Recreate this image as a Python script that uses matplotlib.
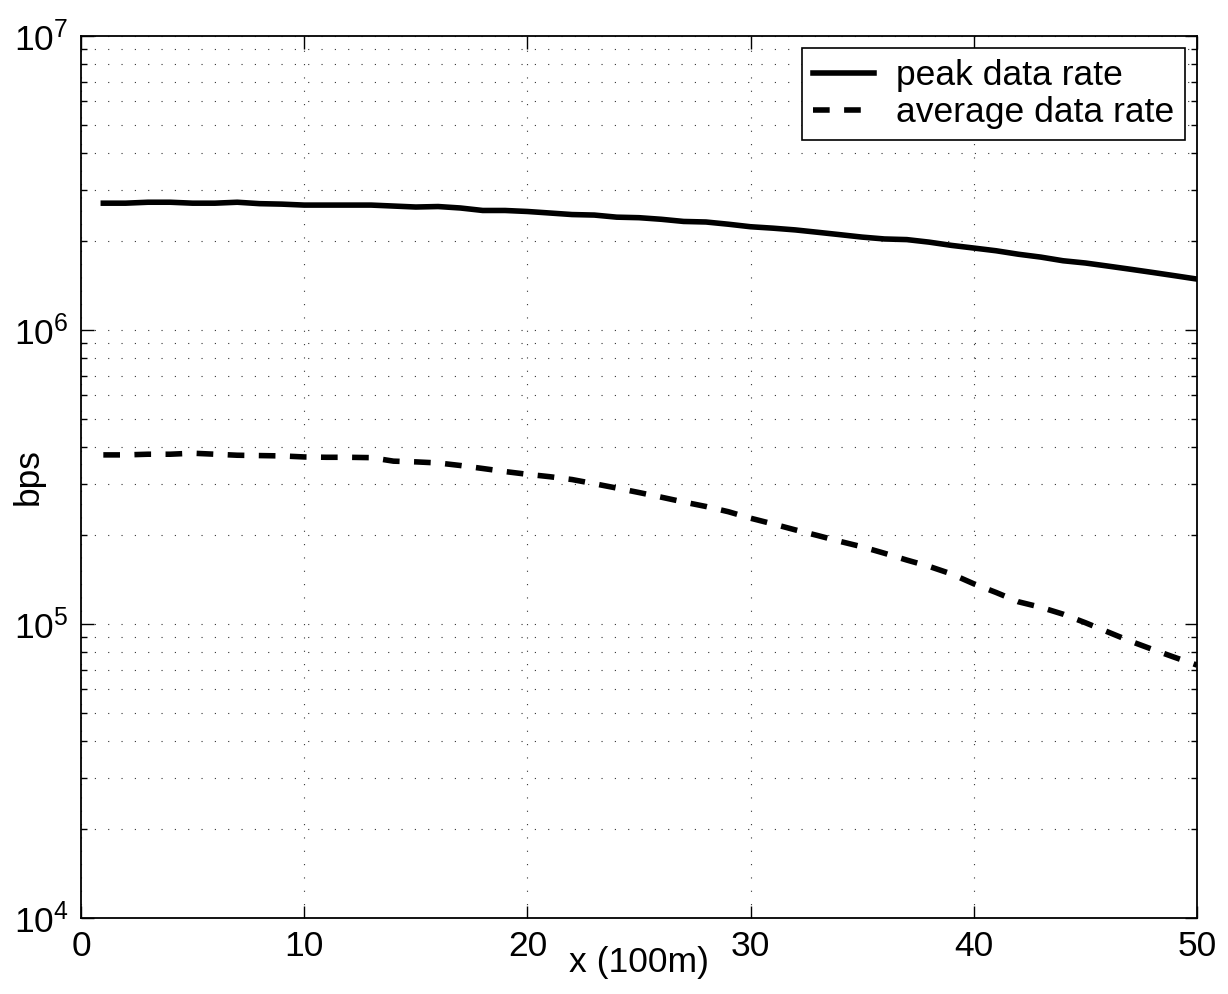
import matplotlib
matplotlib.use("Agg")
import matplotlib.pyplot as plt
import numpy as np
from matplotlib.ticker import LogLocator, FixedLocator, NullFormatter

plt.rcParams['font.family'] = ['Liberation Sans', 'DejaVu Sans']
plt.rcParams['mathtext.default'] = 'regular'

# ---- data ----
x_km = list(range(1, 51))
peak_rate = [2.70e6, 2.70e6, 2.72e6, 2.72e6, 2.70e6, 2.70e6, 2.72e6, 2.69e6, 2.68e6, 2.66e6,
             2.66e6, 2.66e6, 2.66e6, 2.64e6, 2.62e6, 2.63e6, 2.60e6, 2.55e6, 2.55e6, 2.53e6,
             2.50e6, 2.47e6, 2.46e6, 2.42e6, 2.41e6, 2.38e6, 2.34e6, 2.33e6, 2.29e6, 2.245e6,
             2.22e6, 2.19e6, 2.15e6, 2.11e6, 2.07e6, 2.04e6, 2.03e6, 1.99e6, 1.94e6, 1.90e6,
             1.86e6, 1.81e6, 1.77e6, 1.72e6, 1.69e6, 1.65e6, 1.61e6, 1.57e6, 1.53e6, 1.49e6]
avg_rate = [3.76e5, 3.76e5, 3.78e5, 3.78e5, 3.81e5, 3.78e5, 3.75e5, 3.74e5, 3.73e5, 3.70e5,
            3.69e5, 3.69e5, 3.68e5, 3.58e5, 3.56e5, 3.53e5, 3.46e5, 3.38e5, 3.30e5, 3.23e5,
            3.17e5, 3.10e5, 3.00e5, 2.90e5, 2.80e5, 2.70e5, 2.60e5, 2.51e5, 2.41e5, 2.29e5,
            2.19e5, 2.09e5, 2.00e5, 1.91e5, 1.83e5, 1.74e5, 1.65e5, 1.57e5, 1.48e5, 1.37e5,
            1.28e5, 1.19e5, 1.14e5, 1.08e5, 1.01e5, 0.94e5, 0.875e5, 0.82e5, 0.77e5, 0.725e5]
series_labels = ['peak data rate', 'average data rate']
x_ticks = [0, 10, 20, 30, 40, 50]
x_label = 'x (100m)'
y_label = 'bps'

FS = 25.5

fig = plt.figure(figsize=(12.28, 9.94), dpi=100)
ax = fig.add_axes([81/1228, 1 - 918/994, (1197-81)/1228, (918-36)/994])

ax.plot(x_km, peak_rate, color='k', lw=4.0, solid_joinstyle='round', label=series_labels[0])
ax.plot(x_km, avg_rate, color='k', lw=4.0, linestyle=(0, (3, 2.6)), dash_capstyle='butt',
        label=series_labels[1])

ax.set_yscale('log')
ax.set_xlim(0, 50)
ax.set_ylim(1e4, 1e7)
ax.xaxis.set_major_locator(FixedLocator(x_ticks))
ax.yaxis.set_major_locator(LogLocator(base=10, numticks=10))
ax.yaxis.set_minor_locator(LogLocator(base=10, subs=np.arange(2, 10), numticks=20))
ax.yaxis.set_minor_formatter(NullFormatter())

ax.grid(True, which='major', axis='x', color='0.2', lw=0.8, linestyle=(0, (1, 11)))
ax.grid(True, which='both', axis='y', color='0.2', lw=0.8, linestyle=(0, (1, 11)))

ax.tick_params(which='both', direction='in', top=True, right=True, labelsize=FS,
               width=1.0, color='k')
ax.tick_params(which='major', length=9, pad=9)
ax.tick_params(which='minor', length=4)
for s in ax.spines.values():
    s.set_linewidth(1.3)

ax.set_xlabel(x_label, fontsize=FS)
ax.set_ylabel(y_label, fontsize=FS)
ax.xaxis.set_label_coords(0.5, -0.0499)
ax.xaxis.label.set_va('center')
ax.yaxis.set_label_coords(-0.0475, 0.5)
ax.yaxis.label.set_va('center')

leg = ax.legend(loc='upper right', fontsize=FS, frameon=True, fancybox=False,
                edgecolor='k', framealpha=1, handlelength=1.75, handletextpad=0.6,
                borderpad=0.3, labelspacing=0.12, borderaxespad=0.35)
leg.get_frame().set_linewidth(1.2)

fig.savefig('out.png', dpi=100)
